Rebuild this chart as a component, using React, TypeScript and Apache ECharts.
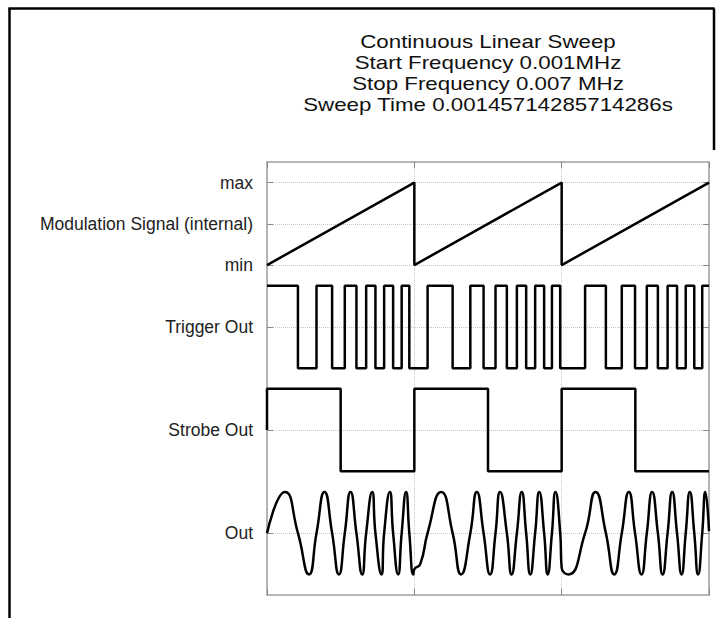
import React, { useEffect, useRef } from "react";
import * as echarts from "echarts";

const titleLines = [
  "Continuous Linear Sweep",
  "Start Frequency 0.001MHz",
  "Stop Frequency 0.007 MHz",
  "Sweep Time 0.00145714285714286s",
];

const yTickValues = [20, 18, 16, 13, 8, 3];
const yTickLabels = ["max", "Modulation Signal (internal)", "min", "Trigger Out", "Strobe Out", "Out"];

const modulationT = [0, 1, 1, 2, 2, 3];
const modulationV = [16, 20, 16, 20, 16, 20];

const triggerT = [
  0, 0.21, 0.336, 0.442, 0.528, 0.607, 0.673, 0.736, 0.795, 0.856, 0.914, 0.966,
  1.09, 1.26, 1.38, 1.47, 1.551, 1.628, 1.696, 1.759, 1.82, 1.881, 1.934, 1.99,
  2.159, 2.3, 2.408, 2.498, 2.578, 2.653, 2.719, 2.783, 2.842, 2.9, 2.954, 3,
];
const triggerV = [
  15, 11, 15, 11, 15, 11, 15, 11, 15, 11, 15, 11,
  15, 11, 15, 11, 15, 11, 15, 11, 15, 11, 15, 11,
  15, 11, 15, 11, 15, 11, 15, 11, 15, 11, 15, 15,
];

const strobeT = [0, 0, 0.5, 1, 1.5, 2, 2.5, 3];
const strobeV = [8, 10, 6, 10, 6, 10, 6, 6];

const outT = [
  0, 0.122, 0.21, 0.285, 0.336, 0.39, 0.442, 0.488, 0.528, 0.567, 0.607, 0.646,
  0.673, 0.714, 0.736, 0.777, 0.795, 0.834, 0.856, 0.89, 0.914, 0.944, 0.966, 0.993,
  1.0, 1.04, 1.09, 1.182, 1.26, 1.317, 1.38, 1.424, 1.47, 1.514, 1.551, 1.582,
  1.628, 1.66, 1.696, 1.729, 1.759, 1.787, 1.82, 1.848, 1.881, 1.905, 1.934, 1.958,
  1.99, 2.0, 2.045, 2.159, 2.23, 2.3, 2.357, 2.408, 2.456, 2.498, 2.542, 2.578,
  2.614, 2.653, 2.685, 2.719, 2.75, 2.783, 2.814, 2.842, 2.87, 2.9, 2.926, 2.954,
  2.975, 3.0,
];
const outV = [
  3, 5, 3, 1, 3, 5, 3, 1, 3, 5, 3, 1,
  3, 5, 3, 1, 3, 5, 3, 1, 3, 5, 3, 1,
  1.25, 1.5, 3, 5, 3, 1, 3, 5, 3, 1, 3, 5,
  3, 1, 3, 5, 3, 1, 3, 5, 3, 1, 3, 5,
  3, 1.32, 1, 3, 5, 3, 1, 3, 5, 3, 1, 3,
  5, 3, 1, 3, 5, 3, 1, 3, 5, 3, 1, 3,
  5, 3.1,
];

const zip = (a: number[], b: number[]) => a.map((v, i) => [v, b[i]]);

const FONT = "Liberation Sans, Arial, sans-serif";

export default function App() {
  const ref = useRef<HTMLDivElement>(null);
  useEffect(() => {
    if (!ref.current) return;
    const chart = echarts.init(ref.current, undefined, { renderer: "svg" });
    const lineStyle = { color: "#000", width: 2.5 };
    const gridStroke = { color: "#c4c4c4", type: "dotted" as const, width: 1 };
    const tickStyle = { color: "#888", width: 1 };
    const borderLine = { show: true, onZero: false, lineStyle: { color: "#a0a0a0", width: 1.5 } };
    chart.setOption({
      animation: false,
      backgroundColor: "#fff",
      grid: {
        left: 267,
        right: 15,
        top: 162,
        bottom: 23,
      },
      xAxis: [
        {
          type: "value",
          min: 0,
          max: 3,
          interval: 1,
          position: "bottom",
          axisLine: borderLine,
          axisTick: { show: true, inside: true, length: 6, lineStyle: tickStyle },
          axisLabel: { show: false },
          splitLine: { show: true, lineStyle: gridStroke },
        },
        {
          type: "value",
          min: 0,
          max: 3,
          interval: 1,
          position: "top",
          axisLine: borderLine,
          axisTick: { show: true, inside: true, length: 6, lineStyle: tickStyle },
          axisLabel: { show: false },
          splitLine: { show: false },
        },
      ],
      yAxis: [
        {
          type: "value",
          min: 0,
          max: 21,
          position: "left",
          axisLine: borderLine,
          axisTick: { show: true, inside: true, length: 6, customValues: yTickValues, lineStyle: tickStyle },
          axisLabel: {
            customValues: yTickValues,
            formatter: (v: number) => {
              const i = yTickValues.indexOf(v);
              return i >= 0 ? yTickLabels[i] : "";
            },
            fontFamily: FONT,
            fontSize: 17.5,
            color: "#222",
            margin: 14,
          },
          splitLine: { show: true, lineStyle: gridStroke },
        },
        {
          type: "value",
          min: 0,
          max: 21,
          position: "right",
          axisLine: borderLine,
          axisTick: { show: true, inside: true, length: 6, customValues: yTickValues, lineStyle: tickStyle },
          axisLabel: { show: false },
          splitLine: { show: false },
        },
      ],
      graphic: [
        { type: "line", shape: { x1: 9.5, y1: 8.5, x2: 9.5, y2: 618 }, style: { stroke: "#000", lineWidth: 2.5 } },
        { type: "line", shape: { x1: 8.3, y1: 8.5, x2: 714.5, y2: 8.5 }, style: { stroke: "#000", lineWidth: 2.5 } },
        { type: "line", shape: { x1: 714, y1: 8.5, x2: 714, y2: 150 }, style: { stroke: "#000", lineWidth: 2.5 } },
        {
          type: "text",
          x: 488,
          y: 31.5,
          scaleX: 1.24,
          style: {
            text: titleLines.join("\n"),
            fontFamily: FONT,
            fontSize: 18,
            lineHeight: 21,
            fill: "#111",
            align: "center",
            verticalAlign: "top",
          },
        },
      ],
      series: [
        { name: "Modulation", type: "line", symbol: "none", data: zip(modulationT, modulationV), lineStyle },
        { name: "Trigger Out", type: "line", symbol: "none", step: "end", data: zip(triggerT, triggerV), lineStyle },
        { name: "Strobe Out", type: "line", symbol: "none", step: "end", data: zip(strobeT, strobeV), lineStyle },
        {
          name: "Out",
          type: "line",
          symbol: "none",
          smooth: 0.55,
          data: zip(outT, outV),
          lineStyle,
        },
      ],
    });
    return () => chart.dispose();
  }, []);
  return (
    <div
      ref={ref}
      style={{ position: "absolute", left: 0, top: 0, width: 724, height: 618 }}
    />
  );
}
